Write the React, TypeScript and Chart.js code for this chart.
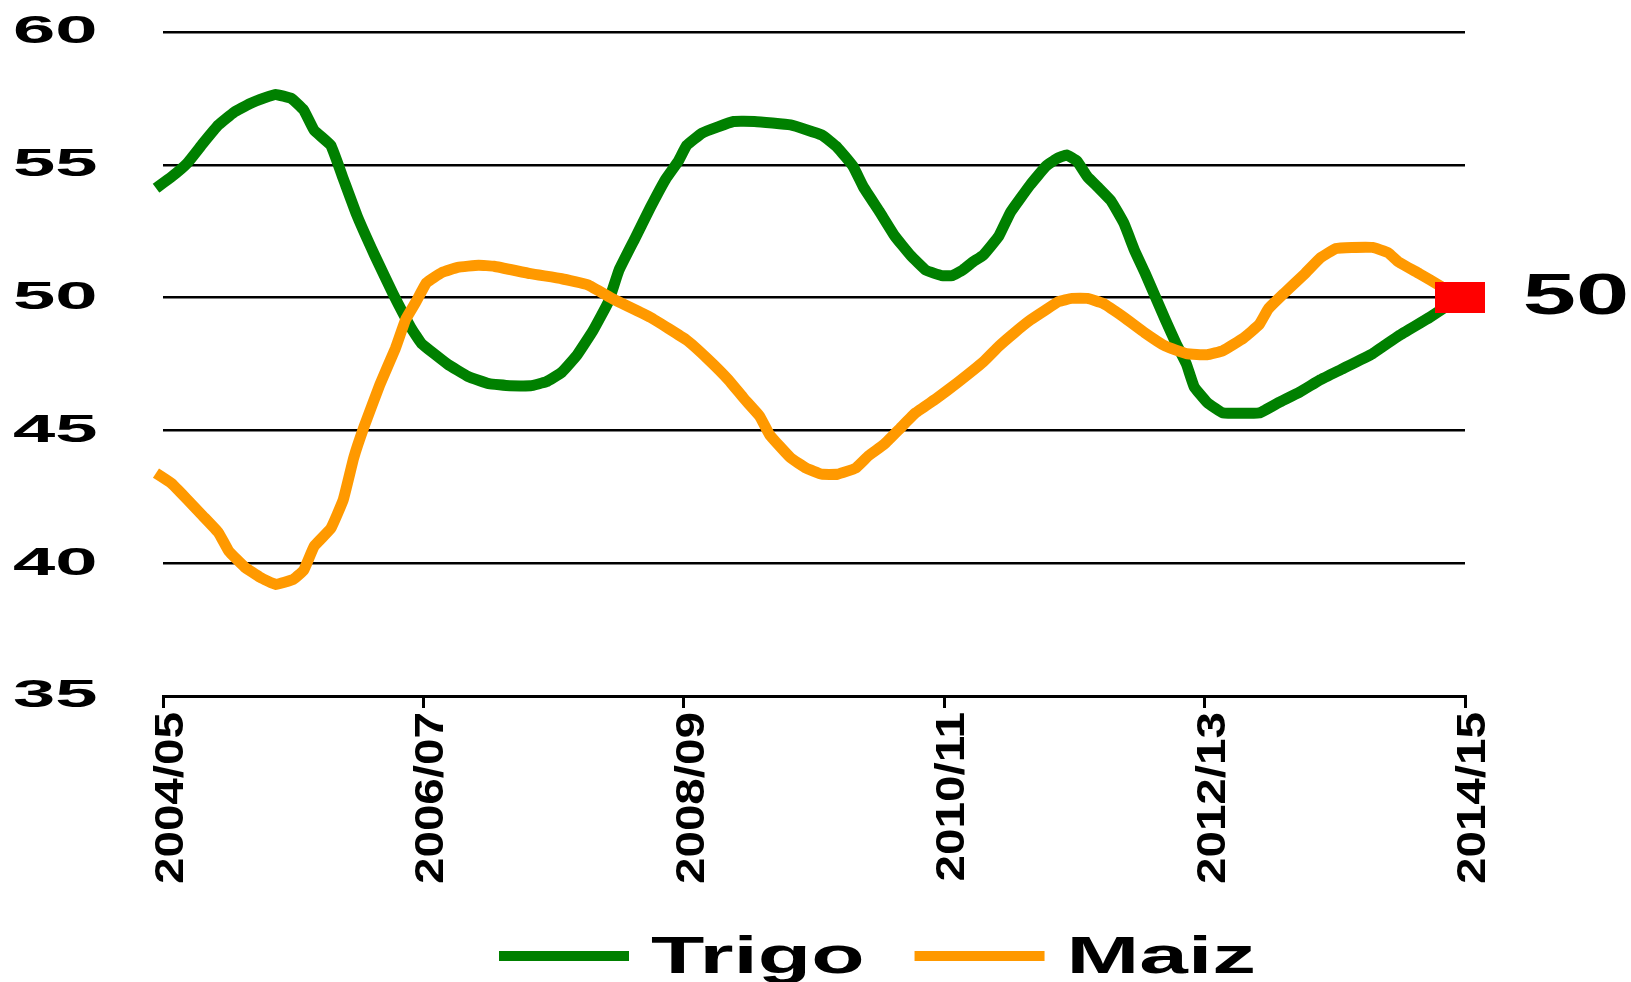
import React, { useEffect, useRef } from "react";
import { Chart, registerables } from "chart.js";

Chart.register(...registerables);

// Tick labels (every two seasons)
const xTickLabels = ["2004/05", "2006/07", "2008/09", "2010/11", "2012/13", "2014/15"];
const seriesNames = ["Trigo", "Maiz"];
const seriesColors = ["#008000", "#FF9900"];

// Trigo: position in years since 2004/05, value
const trigoT = [
  -0.054, 0.066, 0.186, 0.306, 0.426, 0.546, 0.666, 0.785, 0.865, 0.985, 1.081, 1.161, 1.289, 1.385,
  1.489, 1.625, 1.768, 1.904, 1.984, 2.184, 2.343, 2.503, 2.663, 2.823, 2.943, 3.063, 3.182, 3.302,
  3.422, 3.502, 3.622, 3.742, 3.862, 3.958, 4.022, 4.142, 4.262, 4.382, 4.542, 4.82, 5.06, 5.18, 5.3,
  5.38, 5.5, 5.62, 5.74, 5.86, 5.98, 6.06, 6.14, 6.22, 6.3, 6.42, 6.51, 6.66, 6.78, 6.86, 6.94, 7.02,
  7.1, 7.18, 7.28, 7.38, 7.46, 7.54, 7.62, 7.7, 7.78, 7.86, 7.92, 8.02, 8.14, 8.42, 8.57, 8.73, 8.89,
  9.05, 9.29, 9.49, 9.73, 9.96,
];
const trigoValues = [
  54.12, 54.55, 55.06, 55.8, 56.5, 56.98, 57.3, 57.53, 57.65, 57.5, 57.06, 56.3, 55.73, 54.47,
  53.1, 51.6, 50.13, 48.87, 48.28, 47.5, 47.03, 46.76, 46.68, 46.68, 46.83, 47.19, 47.85, 48.75,
  49.85, 51.03, 52.2, 53.38, 54.47, 55.14, 55.73, 56.2, 56.43, 56.63, 56.63, 56.5, 56.12, 55.65, 54.94,
  54.16, 53.26, 52.32, 51.6, 51.03, 50.83, 50.83, 51.03, 51.34, 51.6, 52.32, 53.22, 54.24, 54.94, 55.22, 55.37, 55.14,
  54.55, 54.16, 53.65, 52.8, 51.8, 50.95, 50.05, 49.15, 48.28, 47.5, 46.64, 46.05, 45.66, 45.66, 46.05, 46.44, 46.91,
  47.3, 47.89, 48.56, 49.26, 50.0,
];

// Maiz
const maizT = [
  -0.054, 0.066, 0.186, 0.306, 0.426, 0.506, 0.626, 0.745, 0.865, 1.001, 1.081, 1.161, 1.289, 1.385,
  1.465, 1.545, 1.665, 1.785, 1.864, 1.944, 2.024, 2.144, 2.264, 2.424, 2.543, 2.823, 3.063, 3.263,
  3.462, 3.742, 4.022, 4.182, 4.342, 4.462, 4.582, 4.66, 4.82, 4.94, 5.06, 5.18, 5.32, 5.42, 5.54,
  5.66, 5.78, 5.94, 6.1, 6.3, 6.42, 6.54, 6.66, 6.78, 6.88, 6.98, 7.1, 7.22, 7.38, 7.54, 7.7, 7.86,
  8.02, 8.14, 8.3, 8.42, 8.49, 8.61, 8.77, 8.89, 9.01, 9.13, 9.29, 9.41, 9.49, 9.65, 9.81, 9.96,
];
const maizValues = [
  43.39, 43.0, 42.4, 41.78, 41.15, 40.45, 39.86, 39.47, 39.2, 39.39, 39.74, 40.64, 41.31, 42.4,
  43.97, 45.15, 46.72, 48.09, 49.18, 49.85, 50.56, 50.95, 51.14, 51.22, 51.18, 50.9, 50.71, 50.48,
  49.93, 49.26, 48.4, 47.7, 46.91, 46.2, 45.54, 44.83, 43.97, 43.58, 43.35, 43.35, 43.58, 44.05, 44.48,
  45.07, 45.66, 46.2, 46.79, 47.58, 48.17, 48.68, 49.15, 49.54, 49.85, 49.97, 49.97, 49.78, 49.26, 48.68, 48.17, 47.89,
  47.85, 48.0, 48.48, 48.99, 49.58, 50.16, 50.9, 51.5, 51.85, 51.89, 51.89, 51.69, 51.34, 50.9, 50.44, 50.0,
];

// Final highlighted value
const lastT = 9.96;
const lastValue = 50;

const textPlugin = {
  id: "stretchedTexts",
  afterDraw(chart: any) {
    const ctx = chart.ctx;
    const yScale = chart.scales.y;
    const xScale = chart.scales.x;
    ctx.save();
    ctx.fillStyle = "#000";

    // y tick labels (wide bold)
    ctx.font = "bold 38px 'Liberation Sans'";
    ctx.textBaseline = "middle";
    ctx.textAlign = "left";
    yScale.ticks.forEach((t: any) => {
      const py = yScale.getPixelForValue(t.value);
      ctx.save();
      ctx.translate(13, py + 1);
      ctx.scale(2.0, 1);
      ctx.fillText(String(t.value), 0, 0);
      ctx.restore();
    });

    // x tick labels, rotated, stretched along the text direction
    ctx.font = "bold 40px 'Liberation Sans'";
    ctx.textAlign = "right";
    ctx.textBaseline = "middle";
    xScale.ticks.forEach((t: any) => {
      const px = xScale.getPixelForValue(t.value);
      const label = xTickLabels[Math.round(t.value / 2)] ?? "";
      ctx.save();
      ctx.translate(px + 9, xScale.top + 16);
      ctx.rotate(-Math.PI / 2);
      ctx.scale(1.19, 1);
      ctx.fillText(label, 0, 0);
      ctx.restore();
    });

    // value label next to the final marker
    const meta = chart.getDatasetMeta(2);
    const pt = meta.data[0];
    if (pt) {
      ctx.textAlign = "left";
      ctx.font = "bold 58px 'Liberation Sans'";
      ctx.save();
      ctx.translate(pt.x + 63, pt.y);
      ctx.scale(1.65, 1);
      ctx.fillText(String(lastValue), 0, 0);
      ctx.restore();
    }

    // legend
    const sx = 1.68;
    ctx.textAlign = "left";
    ctx.font = "bold 52px 'Liberation Sans'";
    ctx.textBaseline = "alphabetic";
    let x = 499;
    const lineY = 956;
    const baseY = 973;
    seriesNames.forEach((name, i) => {
      ctx.fillStyle = seriesColors[i];
      ctx.fillRect(x, lineY - 5, 130, 10);
      x += 130 + 22;
      ctx.fillStyle = "#000";
      ctx.save();
      ctx.translate(x, baseY);
      ctx.scale(sx, 1);
      ctx.fillText(name, 0, 0);
      ctx.restore();
      x += ctx.measureText(name).width * sx + 50;
    });

    ctx.restore();
  },
};

export default function App() {
  const canvasRef = useRef<HTMLCanvasElement | null>(null);

  useEffect(() => {
    const canvas = canvasRef.current;
    if (!canvas) return;

    const marker = document.createElement("canvas");
    marker.width = 50;
    marker.height = 31;
    const mctx = marker.getContext("2d");
    if (mctx) {
      mctx.fillStyle = "#FF0000";
      mctx.fillRect(0, 0, 50, 31);
    }

    const chart = new Chart(canvas, {
      type: "line",
      data: {
        datasets: [
          {
            label: seriesNames[0],
            data: trigoT.map((t, i) => ({ x: t, y: trigoValues[i] })),
            borderColor: seriesColors[0],
            backgroundColor: seriesColors[0],
            borderWidth: 11,
            pointRadius: 0,
            tension: 0.1,
            clip: false as any,
            order: 2,
          },
          {
            label: seriesNames[1],
            data: maizT.map((t, i) => ({ x: t, y: maizValues[i] })),
            borderColor: seriesColors[1],
            backgroundColor: seriesColors[1],
            borderWidth: 11,
            pointRadius: 0,
            tension: 0.1,
            clip: false as any,
            order: 1,
          },
          {
            label: "last",
            data: [{ x: lastT, y: lastValue }],
            showLine: false,
            pointStyle: marker as any,
            pointRadius: 16,
            clip: false as any,
            order: 0,
          },
        ],
      },
      options: {
        responsive: false,
        animation: false,
        devicePixelRatio: 1,
        elements: { line: { borderWidth: 11 } },
        layout: { padding: { top: 32, right: 166, bottom: 0, left: 0 } },
        plugins: {
          legend: { display: false },
          tooltip: { enabled: false },
        },
        scales: {
          x: {
            type: "linear",
            min: 0,
            max: 10,
            afterFit: (scale: any) => {
              scale.height = 286;
            },
            border: { display: true, color: "#000", width: 3 },
            grid: {
              display: true,
              drawOnChartArea: false,
              drawTicks: true,
              tickLength: 12,
              color: "#000",
              lineWidth: 3,
            },
            ticks: {
              stepSize: 2,
              autoSkip: false,
              maxRotation: 90,
              minRotation: 90,
              color: "rgba(0,0,0,0)",
              font: { size: 20 },
              callback: (v: any) => xTickLabels[Math.round(Number(v) / 2)] ?? "",
            },
          },
          y: {
            type: "linear",
            min: 35,
            max: 60,
            afterFit: (scale: any) => {
              scale.width = 163;
            },
            border: { display: false },
            grid: {
              display: true,
              drawTicks: false,
              color: "#000",
              lineWidth: 2.5,
            },
            ticks: {
              stepSize: 5,
              display: false,
            },
          },
        },
      },
      plugins: [textPlugin],
    });

    return () => chart.destroy();
  }, []);

  return (
    <div style={{ position: "absolute", left: 0, top: 0, width: 1631, height: 982, background: "#fff" }}>
      <canvas ref={canvasRef} width={1631} height={982} style={{ display: "block", width: 1631, height: 982 }} />
    </div>
  );
}
